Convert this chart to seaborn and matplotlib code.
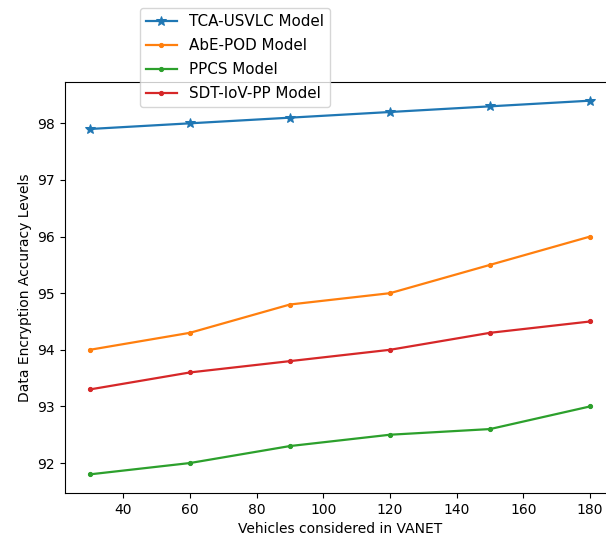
import matplotlib
matplotlib.use("Agg")
import matplotlib.pyplot as plt
import seaborn as sns
import pandas as pd

vehicles = [30, 60, 90, 120, 150, 180]
tca_usvlc = [97.9, 98.0, 98.1, 98.2, 98.3, 98.4]
abe_pod = [94.0, 94.3, 94.8, 95.0, 95.5, 96.0]
ppcs = [91.8, 92.0, 92.3, 92.5, 92.6, 93.0]
sdt_iov_pp = [93.3, 93.6, 93.8, 94.0, 94.3, 94.5]

series = [
    ("TCA-USVLC Model", tca_usvlc, "*", "#1f77b4"),
    ("AbE-POD Model", abe_pod, ".", "#ff7f0e"),
    ("PPCS Model", ppcs, ".", "#2ca02c"),
    ("SDT-IoV-PP Model", sdt_iov_pp, ".", "#d62728"),
]

fig = plt.figure(figsize=(6.06, 5.43), dpi=100)
ax = fig.add_axes([0.107, 0.092, 0.908, 0.757])

for name, vals, mk, col in series:
    df = pd.DataFrame({"x": vehicles, "y": vals})
    sns.lineplot(data=df, x="x", y="y", ax=ax, marker=mk, color=col,
                 label=name, markersize=7 if mk == "*" else 6,
                 markeredgecolor=col, linewidth=1.6)

ax.set_xlabel("Vehicles considered in VANET")
ax.set_ylabel("Data Encryption Accuracy Levels")
ax.set_xticks([40, 60, 80, 100, 120, 140, 160, 180])
ax.set_yticks([92, 93, 94, 95, 96, 97, 98])
ax.set_xlim(22.5, 187.5)
ax.set_ylim(91.47, 98.73)

ax.legend(loc="upper left", bbox_to_anchor=(0.219, 0.999),
          bbox_transform=fig.transFigure, fontsize=10.9, labelspacing=0.6)

fig.savefig("out.png", dpi=100)
